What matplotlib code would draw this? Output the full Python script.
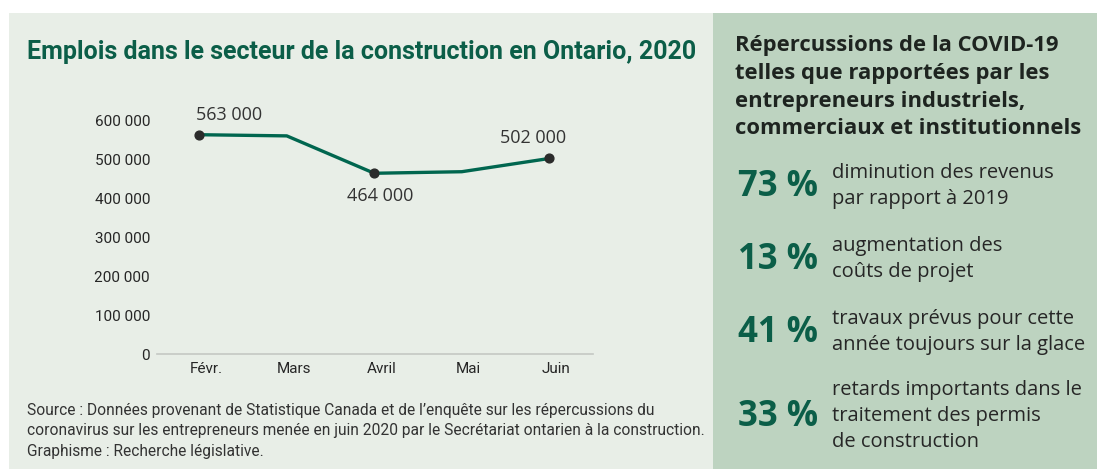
import matplotlib.pyplot as plt
from matplotlib.patches import Rectangle

# Emplois dans la construction, Ontario 2020
months = ['Févr.', 'Mars', 'Avril', 'Mai', 'Juin']
jobs = [563000, 560000, 464000, 468000, 502000]
y_ticks = [0, 100000, 200000, 300000, 400000, 500000, 600000]
labelled = {0: 'left', 2: 'below', 4: 'right'}

# Répercussions COVID-19 (encadré de droite)
pcts = ['73 %', '13 %', '41 %', '33 %']
pct_desc = [
    ['diminution des revenus', 'par rapport à 2019'],
    ['augmentation des', 'coûts de projet'],
    ['travaux prévus pour cette', 'année toujours sur la glace'],
    ['retards importants dans le', 'traitement des permis', 'de construction'],
]
heading = ['Répercussions de la COVID-19', 'telles que rapportées par les',
           'entrepreneurs industriels,', 'commerciaux et institutionnels']
source = ["Source : Données provenant de Statistique Canada et de l’enquête sur les répercussions du",
          "coronavirus sur les entrepreneurs menée en juin 2020 par le Secrétariat ontarien à la construction.",
          "Graphisme : Recherche législative."]

W, H = 1098, 469
GREEN = '#0b5e48'
LINE = '#00664f'
DARK = '#262626'
COND = ['Roboto', 'DejaVu Sans']
WIDE = ['Open Sans', 'DejaVu Sans']

fig = plt.figure(figsize=(W / 100, H / 100), dpi=100)
fig.patch.set_facecolor('white')


def fx(x):
    return x / W


def fy(y):
    return 1 - y / H


# background panels
fig.patches.append(Rectangle((fx(9), 0), fx(713) - fx(9), fy(13), transform=fig.transFigure,
                             facecolor='#e8eee7', edgecolor='none', zorder=-5))
fig.patches.append(Rectangle((fx(713), 0), fx(1097) - fx(713), fy(13), transform=fig.transFigure,
                             facecolor='#bdd3c0', edgecolor='none', zorder=-5))

fig.text(fx(27), fy(52), 'Emplois dans le secteur de la construction en Ontario, 2020',
         fontsize=18, fontweight='bold', fontstretch='condensed', color=GREEN,
         va='center', ha='left', family=COND)

# line chart
ax_top = 354 - 620000 * 233.7 / 600000
ax = fig.add_axes([fx(157), fy(354), fx(593) - fx(157), (354 - ax_top) / H])
ax.set_facecolor('none')
xs = list(range(len(months)))
ax.plot(xs, jobs, color=LINE, lw=2.4, zorder=2)
ax.scatter([xs[i] for i in labelled], [jobs[i] for i in labelled], s=40, color='#2b2b2b', zorder=3)
ax.set_xlim(-0.483, 4.5)
ax.set_ylim(0, 620000)
ax.set_yticks(y_ticks)
ax.set_yticklabels([f'{v:,}'.replace(',', ' ') for v in y_ticks], fontsize=11, color=DARK,
                   family=COND, fontstretch='condensed')
# month labels sit a little right of their points
ax.set_xticks([x + 0.08 for x in xs])
ax.set_xticklabels(months, fontsize=11, color=DARK, family=COND, fontstretch='condensed')
ax.tick_params(axis='y', length=0, pad=5)
ax.tick_params(axis='x', length=0, pad=6)
for s in ['top', 'right', 'left']:
    ax.spines[s].set_visible(False)
ax.spines['bottom'].set_color('#c4c8c4')
ax.spines['bottom'].set_linewidth(1.2)

offsets = {'left': (-2, 14, 'left'), 'below': (4, -16.5, 'center'), 'right': (12, 14.5, 'right')}
for i, pos in labelled.items():
    dx, dy, ha = offsets[pos]
    ax.annotate(f'{jobs[i]:,}'.replace(',', ' '), (xs[i], jobs[i]), xytext=(dx, dy),
                textcoords='offset points', ha=ha, va='center', fontsize=13, color='#333333',
                family=WIDE)

for k, line in enumerate(source):
    fig.text(fx(27), fy(410 + k * 20.5), line, fontsize=11.2, color='#333333', va='center',
             family=COND, fontstretch='condensed')

# right-hand box
for k, line in enumerate(heading):
    fig.text(fx(735), fy(45 + k * 28), line, fontsize=15.8, fontweight='bold', color='#1e2420',
             va='center', family=WIDE)

pct_y = [184, 257, 330, 414]
for p, yc, desc in zip(pcts, pct_y, pct_desc):
    fig.text(fx(818), fy(yc + 3), p, fontsize=25, fontweight='bold', color=GREEN, ha='right',
             va='center', family=WIDE)
    n = len(desc)
    for j, line in enumerate(desc):
        fig.text(fx(832), fy(yc + (j - (n - 1) / 2) * 26 + 2), line, fontsize=14.5, color='#262626',
                 va='center', family=WIDE)

fig.savefig('out.png', dpi=100, facecolor='white')
